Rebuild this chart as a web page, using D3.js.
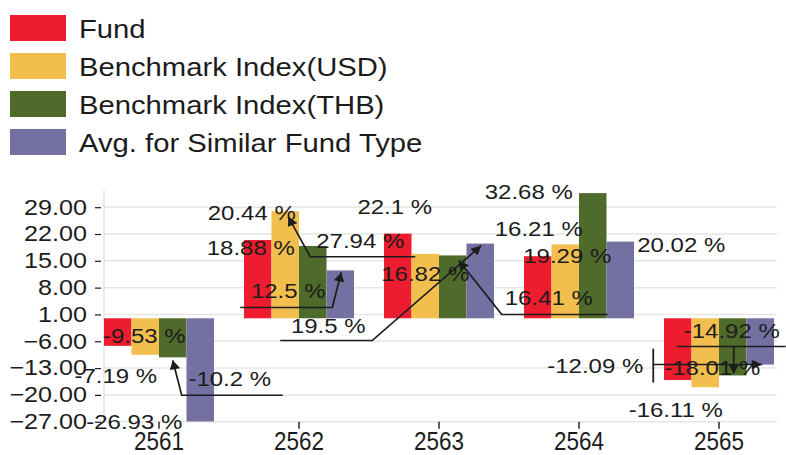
<!DOCTYPE html>
<html><head><meta charset="utf-8">
<script src="https://cdn.jsdelivr.net/npm/d3@7"></script>
<style>html,body{margin:0;padding:0;background:#fff;overflow:hidden}</style>
</head><body>
<script>
// ---- data ----
const categories = ["2561", "2562", "2563", "2564", "2565"];
const seriesNames = ["Fund", "Benchmark Index(USD)", "Benchmark Index(THB)", "Avg. for Similar Fund Type"];
const fund = [-7.19, 20.44, 22.1, 16.21, -16.11];
const benchUSD = [-9.53, 27.94, 16.82, 19.29, -18.01];
const benchTHB = [-10.2, 18.88, 16.41, 32.68, -14.92];
const avgSimilar = [-26.93, 12.5, 19.5, 20.02, -12.09];
const yTicks = [29, 22, 15, 8, 1, -6, -13, -20, -27];
const colors = ["#ED1C2E", "#F2BF4F", "#4F6B2B", "#7471A2"];

// ---- label placement (pixel offsets from each bar's end) ----
const labelOffsets = [
  [[-2, 37], [-6, -20], [-3, -20], [1, -20.5], [-2, 37]],
  [[-1, -12], [75, 36.5], [0, 27], [2, 19], [7, -12]],
  [[57, 29], [-62, 9], [96, 50], [-64, 6], [-1, -37]],
  [[-66, 8], [-52, 28], [-152, 89], [61, 10], [-165, 8]]
];
const leaders = [
  {s: 2, c: 0, pts: [[110, 38], [9, 38], [0, 3]], arrow: true},
  {s: 1, c: 1, pts: [[130, 45.5], [25, 45.5], [3, 5.5]], arrow: true},
  {s: 3, c: 1, pts: [[-100, 37], [-8, 37], [1, 2]], arrow: true},
  {s: 2, c: 2, pts: [[155, 59], [49, 59], [6, 5]], arrow: true},
  {s: 3, c: 2, pts: [[-200, 97], [-108, 97], [1, 2]], arrow: true},
  {s: 2, c: 4, pts: [[53, -29], [-56, -29]], arrow: false},
  {s: 2, c: 4, pts: [[1, -29], [1, -2]], arrow: true},
  {s: 3, c: 4, pts: [[-107, -16], [-107, 18]], arrow: false},
  {s: 3, c: 4, pts: [[-107, 0], [2, 0]], arrow: true}
];

const seriesValues = [fund, benchUSD, benchTHB, avgSimilar];
const W = 786, H = 455, SX = 1.17, VW = W / SX;
const FONT = "'Liberation Sans', Arial, sans-serif";
const INK = "#1c1c1c";

const svg = d3.select("body").append("svg")
  .attr("width", W).attr("height", H)
  .attr("viewBox", `0 0 ${VW} ${H}`)
  .attr("preserveAspectRatio", "none")
  .style("display", "block")
  .style("font-family", FONT);

svg.append("defs").append("marker")
  .attr("id", "arr").attr("viewBox", "0 0 10 10")
  .attr("refX", 10).attr("refY", 5)
  .attr("markerWidth", 11).attr("markerHeight", 9)
  .attr("markerUnits", "userSpaceOnUse").attr("orient", "auto")
  .append("path").attr("d", "M0,0L10,5L0,10z").attr("fill", INK);

// scales
const x = d3.scaleBand().domain(categories).range([89 / SX, 789 / SX]);
const xs = d3.scaleBand().domain(seriesNames).range([15 / SX, 125 / SX]);
const y = d3.scaleLinear().domain([-27, 29]).range([421.7, 207.2]);

const plotL = 104 / SX, plotR = 777 / SX;

// gridlines
svg.append("g").selectAll("line").data(yTicks).join("line")
  .attr("x1", plotL).attr("x2", plotR)
  .attr("y1", d => y(d)).attr("y2", d => y(d))
  .attr("stroke", "#e6e6e6").attr("stroke-width", 1.5);

// y axis line
svg.append("line").attr("x1", plotL).attr("x2", plotL)
  .attr("y1", 190).attr("y2", y(-27) + 1)
  .attr("stroke", "#e0e0e0").attr("stroke-width", 1.2);

// y axis
const yAxis = d3.axisLeft(y).tickValues(yTicks).tickFormat(d3.format(".2f"))
  .tickSize(6 / SX).tickPadding(8 / SX);
const gy = svg.append("g").attr("transform", `translate(${101 / SX},0)`).call(yAxis);
gy.select(".domain").remove();
gy.selectAll(".tick line").attr("stroke", INK).attr("stroke-width", 1.2);
gy.selectAll(".tick text").attr("fill", INK).style("font-size", "21.5px").style("font-family", FONT);

// x axis
const xAxis = d3.axisBottom(x).tickSize(7).tickPadding(3);
const gx = svg.append("g").attr("transform", `translate(0,${y(-27)})`).call(xAxis);
gx.select(".domain").remove();
gx.selectAll(".tick line").attr("stroke", INK).attr("stroke-width", 1.2);
gx.selectAll(".tick text").attr("fill", INK)
  .style("font-size", "25.5px").style("font-family", FONT)
  .attr("dy", null).attr("y", 28.5)
  .attr("textLength", 50 / SX).attr("lengthAdjust", "spacingAndGlyphs");

// bars
const barData = [];
seriesNames.forEach((s, si) => categories.forEach((c, ci) => {
  barData.push({s, si, c, ci, v: seriesValues[si][ci]});
}));
svg.append("g").selectAll("rect").data(barData).join("rect")
  .attr("x", d => x(d.c) + xs(d.s))
  .attr("width", xs.bandwidth())
  .attr("y", d => Math.min(y(d.v), y(0)))
  .attr("height", d => Math.abs(y(d.v) - y(0)))
  .attr("fill", d => colors[d.si]);

const anchorX = (si, ci) => x(categories[ci]) + xs(seriesNames[si]) + xs.bandwidth() / 2;
const anchorY = (si, ci) => y(seriesValues[si][ci]);

// leader lines
const line = d3.line();
svg.append("g").selectAll("path").data(leaders).join("path")
  .attr("d", d => line(d.pts.map(p => [anchorX(d.s, d.c) + p[0] / SX, anchorY(d.s, d.c) + p[1]])))
  .attr("fill", "none").attr("stroke", INK).attr("stroke-width", 1.5)
  .attr("marker-end", d => d.arrow ? "url(#arr)" : null);

// value labels
svg.append("g").selectAll("text").data(barData).join("text")
  .attr("x", d => anchorX(d.si, d.ci) + labelOffsets[d.si][d.ci][0] / SX)
  .attr("y", d => anchorY(d.si, d.ci) + labelOffsets[d.si][d.ci][1])
  .attr("text-anchor", "middle")
  .attr("fill", INK)
  .style("font-size", "20.5px")
  .text(d => `${d.v} %`);

// legend
const lg = svg.append("g").selectAll("g").data(seriesNames).join("g")
  .attr("transform", (d, i) => `translate(${10 / SX},${15 + 38 * i})`);
lg.append("rect").attr("width", 56 / SX).attr("height", 26)
  .attr("fill", (d, i) => colors[i]);
lg.append("text").attr("x", 69 / SX).attr("y", 23)
  .attr("fill", INK).style("font-size", "25px").text(d => d);
</script>
</body></html>
